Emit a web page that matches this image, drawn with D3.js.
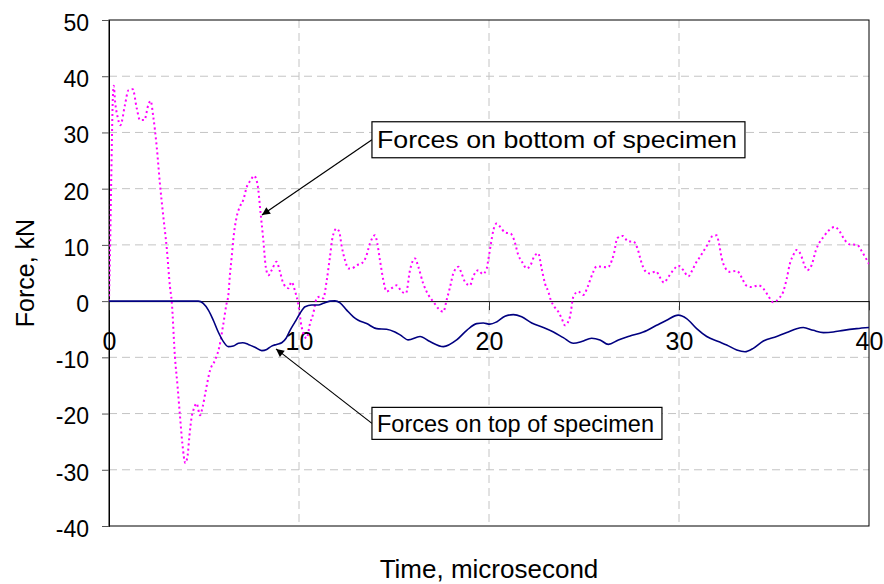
<!DOCTYPE html>
<html>
<head>
<meta charset="utf-8">
<script src="https://cdn.jsdelivr.net/npm/d3@7"></script>
<style>
  body { margin: 0; background: #fff; }
  svg { display: block; font-family: "Liberation Sans", Arial, sans-serif; }
</style>
</head>
<body>
<div id="chart"></div>
<script>
// ---------- data ----------
// Forces on bottom of specimen (pink, dotted)
const bottomTime = [0, 0.05, 0.12, 0.2, 0.25, 0.32, 0.45, 0.6, 0.84, 1.02, 1.25, 1.46, 1.63, 1.86, 2.07, 2.19, 2.33, 2.51, 2.68, 2.86,
  3.04, 3.21, 3.3, 3.47, 3.61, 3.74, 3.86, 4.02, 4.14, 4.23, 4.35, 4.47, 4.61, 4.79, 4.93, 5.1, 5.32, 5.58, 5.81, 6.02,
  6.19, 6.28, 6.36, 6.46, 6.54, 6.72, 6.89, 7.07, 7.25, 7.46, 7.63, 7.81, 7.98, 8.12, 8.25, 8.39, 8.56, 8.82, 9.0, 9.18,
  9.44, 9.61, 9.79, 9.96, 10.14, 10.4, 10.58, 10.75, 10.93, 11.1, 11.28, 11.46, 11.63, 11.77, 11.98, 12.12, 12.25, 12.42, 12.6, 12.77,
  13.04, 13.3, 13.53, 13.74, 14.0, 14.12, 14.26, 14.44, 14.61, 14.88, 15.14, 15.4, 15.63, 15.84, 16.1, 16.28, 16.54, 16.81, 17.07, 17.33,
  17.6, 17.77, 17.95, 18.12, 18.39, 18.56, 18.74, 19.0, 19.17, 19.44, 19.67, 19.88, 19.96, 20.09, 20.23, 20.4, 20.62, 20.84, 21.14, 21.32,
  21.54, 21.77, 21.98, 22.19, 22.37, 22.59, 22.77, 22.95, 23.12, 23.25, 23.44, 23.65, 23.83, 24.0, 24.26, 24.44, 24.7, 24.96, 25.19, 25.35,
  25.49, 25.67, 25.93, 26.25, 26.46, 26.58, 26.75, 27.04, 27.33, 27.6, 27.81, 28.04, 28.21, 28.47, 28.79, 29.0, 29.21, 29.44, 29.7, 29.96,
  30.23, 30.49, 30.7, 30.89, 31.11, 31.33, 31.54, 31.77, 31.98, 32.1, 32.25, 32.42, 32.68, 33.04, 33.3, 33.53, 33.82, 34.18, 34.47, 34.7,
  34.96, 35.26, 35.49, 35.67, 35.84, 36.02, 36.19, 36.42, 36.58, 36.75, 36.98, 37.21, 37.39, 37.6, 37.86, 38.21, 38.47, 38.7, 38.96, 39.38,
  39.61, 39.84, 40];
const bottomForce = [0, 8, 22, 36, 38.3, 35.5, 32.8, 31.3, 34.9, 37.5, 37.7, 34.3, 32.2, 32.2, 34.9, 35.6, 32.8, 27.5, 20.9, 15,
  9.4, 2.5, 0, -9.9, -15.2, -20.6, -25.3, -28.8, -27.4, -24.1, -20.6, -19.1, -18.2, -20.3, -18.8, -15.8, -12.3, -10.5, -8.1, -4,
  -0.4, 1, 4.5, 7.9, 10.9, 15, 16.8, 18, 20.3, 21.5, 22.3, 20.9, 15.6, 10.9, 6.1, 4.6, 5.5, 7, 5.2, 3.1,
  2.3, 3.4, 1.8, -0.5, -4.6, -6.6, -4, -2.2, 0.5, 0.8, 0.5, 3.7, 7.9, 11.4, 12.9, 12.3, 9.7, 7.3, 5.8, 5.8,
  6.4, 6.7, 7.9, 10.3, 11.7, 10.3, 7.3, 3.7, 1.7, 2.3, 2.8, 1.7, 1.4, 5.5, 7.6, 6.1, 3.1, 1.1, -0.1, -1.3,
  -1.9, 0.2, 2.5, 4.9, 6.1, 4.9, 3.4, 2.8, 4.4, 5.5, 4.8, 5.8, 7.3, 10, 12.6, 13.8, 13.1, 12.2, 12, 10.9,
  8.2, 6.8, 5.8, 6.4, 7.9, 8.5, 5.8, 3.1, 1.7, 0.2, -1, -1.9, -3.1, -4.3, -2.8, 0.8, 1.7, 1.1, 2.5, 4,
  5.2, 6.2, 6.1, 6, 7.2, 8.5, 11.2, 11.6, 10.6, 10.6, 9.4, 6.7, 5.4, 4.9, 5.3, 4.2, 3.3, 4.3, 5.5, 6.3,
  5.5, 4.4, 5.5, 6.8, 7.9, 9.1, 10.3, 11.6, 11.7, 10.3, 7.6, 6, 5.2, 5.4, 4.2, 2.8, 2.5, 2.8, 2.1, 0.9,
  -0.2, 0.5, 1.7, 4, 6.7, 8.2, 9.1, 8.2, 6.6, 5.5, 6.4, 9.1, 10.4, 11.4, 12.5, 13.2, 12.3, 11, 10.1, 10,
  8.9, 7.6, 6.6];

// Forces on top of specimen (navy, solid)
const topTime = [0, 4.7, 4.96, 5.23, 5.49, 5.75, 6.02, 6.28, 6.54, 6.81, 7.04, 7.33, 7.68, 8.04, 8.3, 8.56, 8.82, 9.09, 9.32, 9.53,
  9.79, 10.05, 10.32, 10.67, 11.02, 11.28, 11.63, 11.89, 12.16, 12.51, 12.86, 13.12, 13.56, 14.09, 14.61, 15.05, 15.32, 15.75, 16.37, 16.89,
  17.6, 18.3, 18.83, 19.35, 19.7, 20.05, 20.4, 20.84, 21.28, 21.72, 22.25, 22.86, 23.39, 23.91, 24.44, 24.88, 25.4, 25.84, 26.28, 26.81,
  27.42, 28.12, 28.82, 29.35, 29.96, 30.4, 30.93, 31.46, 32.07, 32.51, 33.04, 33.47, 33.91, 34.44, 35.14, 35.75, 36.19, 36.54, 37.07, 37.6,
  38.12, 38.65, 39.35, 40];
const topForce = [0, 0, -0.4, -1.6, -3.4, -5.5, -7.2, -8.1, -8, -7.5, -7.4, -7.7, -8.2, -8.8, -8.6, -8, -7.7, -7.4, -6.6, -5.2,
  -3.7, -2.2, -1, -0.7, -0.7, -0.4, 0, 0.05, -0.3, -1.6, -2.8, -3.4, -4, -4.9, -5, -5.5, -6, -6.9, -6.3, -7.2,
  -8.1, -6.9, -5.2, -4, -3.9, -4.1, -3.7, -2.7, -2.4, -2.8, -3.9, -4.7, -5.5, -6.5, -7.5, -7.2, -6.6, -6.9, -7.7, -6.9,
  -6.2, -5.5, -4.3, -3.4, -2.5, -3.1, -4.9, -6.3, -7.2, -7.8, -8.7, -9.0, -8.4, -7.1, -6.3, -5.5, -4.9, -4.7, -5.2, -5.6,
  -5.5, -5.2, -4.9, -4.7];

// Axis ticks and labels
const xTicks = [0, 10, 20, 30, 40];
const yTicks = [-40, -30, -20, -10, 0, 10, 20, 30, 40, 50];
const xTitle = "Time, microsecond";
const yTitle = "Force, kN";

// Call-out labels: [label, box left (time), box top (force), arrow tip (time), arrow tip (force)]
const bottomNote = ["Forces on bottom of specimen", 13.84, 31.9, 8.05, 15.3];
const topNote = ["Forces on top of specimen", 13.84, -18.9, 8.79, -8.5];

// ---------- layout ----------
const W = 884, H = 584;
const margin = { top: 20, right: 15, bottom: 58, left: 109 };
const width = W - margin.left - margin.right;   // 760
const height = H - margin.top - margin.bottom;  // 506

const svg = d3.select("#chart").append("svg")
  .attr("width", W)
  .attr("height", H);

const g = svg.append("g")
  .attr("transform", `translate(${margin.left},${margin.top})`);

const x = d3.scaleLinear().domain([0, 40]).range([0, width]);
const y = d3.scaleLinear().domain([-40, 50]).range([height, 0]);

// Grid lines (dashed gray)
g.selectAll(".hgrid")
  .data(yTicks.filter(v => v !== 0 && v !== 50 && v !== -40))
  .enter().append("line")
  .attr("x1", 0).attr("x2", width)
  .attr("y1", d => y(d)).attr("y2", d => y(d))
  .attr("stroke", "#c4c4c4")
  .attr("stroke-dasharray", "8,5");

g.selectAll(".vgrid")
  .data(xTicks.filter(v => v !== 0 && v !== 40))
  .enter().append("line")
  .attr("x1", d => x(d)).attr("x2", d => x(d))
  .attr("y1", 0).attr("y2", height)
  .attr("stroke", "#c4c4c4")
  .attr("stroke-dasharray", "8,5");

// Plot border
g.append("rect")
  .attr("width", width).attr("height", height)
  .attr("fill", "none")
  .attr("stroke", "#000")
  .attr("stroke-width", 1);

// Y axis (plain hyphen for negatives, like the original)
const yAxis = g.append("g")
  .call(d3.axisLeft(y).tickValues(yTicks).tickSize(7).tickPadding(13).tickFormat(d => String(d)));
yAxis.select(".domain").attr("stroke", "#000");
yAxis.selectAll(".tick line").attr("stroke", "#555");
yAxis.selectAll("text")
  .attr("font-size", 23)
  .attr("font-family", "Liberation Sans, Arial, sans-serif")
  .attr("dy", "0.45em")
  .attr("fill", "#000");

// X axis sits on the zero line
const xAxis = g.append("g")
  .attr("transform", `translate(0,${y(0)})`)
  .call(d3.axisBottom(x).tickValues(xTicks).tickSize(9).tickPadding(0).tickFormat(d => String(d)));
xAxis.select(".domain").attr("stroke", "#000");
xAxis.selectAll(".tick line").attr("stroke", "#333");
xAxis.selectAll("text")
  .attr("font-size", 25)
  .attr("font-family", "Liberation Sans, Arial, sans-serif")
  .attr("y", 49)
  .attr("dy", 0)
  .attr("fill", "#000");

// Clip for series
g.append("clipPath").attr("id", "plotclip")
  .append("rect").attr("width", width).attr("height", height);

const line = d3.line()
  .x(d => x(d[0]))
  .y(d => y(d[1]))
  .curve(d3.curveMonotoneX);

// Bottom force series (magenta dotted)
g.append("path")
  .datum(d3.zip(bottomTime, bottomForce))
  .attr("clip-path", "url(#plotclip)")
  .attr("fill", "none")
  .attr("stroke", "#ff00ff")
  .attr("stroke-width", 2)
  .attr("stroke-dasharray", "2,3")
  .attr("d", line);

// Top force series (navy solid)
g.append("path")
  .datum(d3.zip(topTime, topForce))
  .attr("clip-path", "url(#plotclip)")
  .attr("fill", "none")
  .attr("stroke", "#000080")
  .attr("stroke-width", 1.6)
  .attr("d", line);

// Arrow head marker
svg.append("defs").append("marker")
  .attr("id", "arrow")
  .attr("viewBox", "0 0 10 10")
  .attr("refX", 10).attr("refY", 5)
  .attr("markerWidth", 11).attr("markerHeight", 8)
  .attr("markerUnits", "userSpaceOnUse")
  .attr("orient", "auto")
  .append("path")
  .attr("d", "M0,0 L10,5 L0,10 Z")
  .attr("fill", "#000");

// Call-outs
function callout(note, boxW, boxH, textLen) {
  const [label, bx, by, tx, ty] = note;
  const left = x(bx), top = y(by);
  g.append("line")
    .attr("x1", left).attr("y1", top + boxH / 2)
    .attr("x2", x(tx)).attr("y2", y(ty))
    .attr("stroke", "#000")
    .attr("stroke-width", 1.2)
    .attr("marker-end", "url(#arrow)");
  g.append("rect")
    .attr("x", left).attr("y", top)
    .attr("width", boxW).attr("height", boxH)
    .attr("fill", "#fff")
    .attr("stroke", "#000")
    .attr("stroke-width", 1.2);
  g.append("text")
    .attr("x", left + 5)
    .attr("y", top + boxH / 2 + 8.5)
    .attr("font-size", 24)
    .attr("textLength", textLen)
    .attr("lengthAdjust", "spacingAndGlyphs")
    .text(label);
}
callout(bottomNote, 373, 36, 360);
callout(topNote, 290, 32, 277);

// Axis titles
svg.append("text")
  .attr("x", margin.left + width / 2)
  .attr("y", 578)
  .attr("text-anchor", "middle")
  .attr("font-size", 26)
  .text(xTitle);

svg.append("text")
  .attr("transform", `translate(34,${margin.top + height / 2}) rotate(-90)`)
  .attr("text-anchor", "middle")
  .attr("font-size", 25)
  .text(yTitle);
</script>
</body>
</html>
